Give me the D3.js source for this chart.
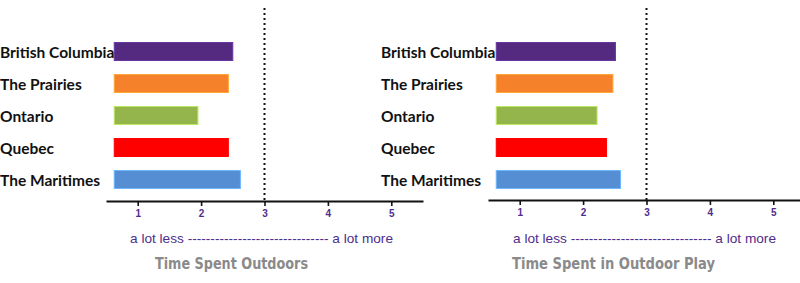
<!DOCTYPE html>
<html><head><meta charset="utf-8">
<script src="https://cdn.jsdelivr.net/npm/d3@7"></script>
<style>body{margin:0;background:#fff}svg{display:block}</style>
</head><body>
<svg id="c" width="800" height="283"></svg>
<script>
const regions = ["British Columbia","The Prairies","Ontario","Quebec","The Maritimes"];
const colors = ["#532a80","#f5812b","#93b54c","#ff0000","#568ed4"];
const outdoors = [2.50, 2.43, 1.95, 2.43, 2.62];
const outdoorPlay = [2.51, 2.47, 2.22, 2.37, 2.59];
const tickValues = [1,2,3,4,5];
const barBase = 0.63;
const refValue = 3;
const scaleNote = "a lot less ------------------------------- a lot more";
const titles = ["Time Spent Outdoors","Time Spent in Outdoor Play"];

const svg = d3.select("#c");
const panels = [
  {vals: outdoors, range:[106,423], axisY:201, labelX:0, title:titles[0], titleX:155, titleW:153, noteX:130, noteW:263},
  {vals: outdoorPlay, range:[488,805], axisY:200, labelX:381, title:titles[1], titleX:512, titleW:203, noteX:513, noteW:263}
];
const y = d3.scalePoint().domain(regions).range([51.5,179.5]);
const bh = 18;

panels.forEach(p=>{
  const g = svg.append("g");
  const x = d3.scaleLinear().domain([0.5,5.5]).range(p.range);
  g.selectAll("rect").data(regions).join("rect")
    .attr("x", x(barBase))
    .attr("y", d=>y(d)-bh/2)
    .attr("width", (d,i)=>x(p.vals[i])-x(barBase))
    .attr("height", bh)
    .attr("fill",(d,i)=>colors[i])
    .attr("stroke",(d,i)=>d3.color(colors[i]).brighter(0.7))
    .attr("stroke-width",1);
  g.selectAll("text.lab").data(regions).join("text").attr("class","lab")
    .attr("x", p.labelX).attr("y", d=>y(d))
    .attr("dominant-baseline","central")
    .attr("font-family","Lato, 'Open Sans', sans-serif")
    .attr("font-weight","bold").attr("font-size",15.5).attr("fill","#111")
    .text(d=>d);
  g.append("line").attr("x1",x(refValue)).attr("x2",x(refValue))
    .attr("y1",8).attr("y2",p.axisY)
    .attr("stroke","#111").attr("stroke-width",2).attr("stroke-dasharray","2,3");
  const ax = g.append("g").attr("transform",`translate(0,${p.axisY})`)
    .call(d3.axisBottom(x).tickValues(tickValues).tickFormat(d3.format("d")).tickSize(5).tickPadding(4).tickSizeOuter(0));
  ax.select(".domain").attr("stroke","#111").attr("stroke-width",2.2);
  ax.selectAll(".tick line").attr("stroke","#111").attr("stroke-width",1.6);
  ax.selectAll(".tick text").attr("fill","#4e2d8c").attr("font-family","Arial, 'Liberation Sans', sans-serif")
    .attr("font-weight","bold").attr("font-size",10);
  g.append("text").attr("x",p.noteX).attr("y",243)
    .attr("font-family","Arial, 'Liberation Sans', sans-serif").attr("font-size",13.5)
    .attr("fill","#4e2d8c").attr("textLength",p.noteW).attr("lengthAdjust","spacingAndGlyphs")
    .text(scaleNote);
  g.append("text").attr("x",p.titleX).attr("y",268.5)
    .attr("font-family","'DejaVu Sans Condensed', 'DejaVu Sans', sans-serif").attr("font-weight","bold")
    .attr("font-size",16).attr("fill","#8a8a8a")
    .attr("textLength",p.titleW).attr("lengthAdjust","spacingAndGlyphs")
    .text(p.title);
});
</script>
</body></html>
